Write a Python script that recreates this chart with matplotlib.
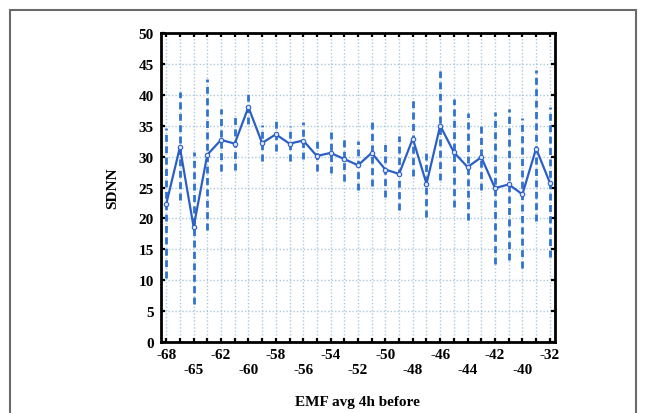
import matplotlib
matplotlib.use("Agg")
import matplotlib.pyplot as plt
from matplotlib.patches import Rectangle

# ---- data ----
emf = [-68, -66, -65, -63, -62, -61, -60, -59, -58, -57, -56, -55, -54, -53, -52,
       -51, -50, -49, -48, -47, -46, -45, -44, -43, -42, -41, -40, -36, -32]
sdnn_mean = [22.3, 31.5, 18.6, 30.3, 32.7, 32.1, 38.0, 32.2, 33.6, 32.1, 32.6, 30.1,
             30.6, 29.6, 28.6, 30.6, 27.9, 27.2, 32.9, 25.6, 35.0, 30.7, 28.3, 29.9,
             24.9, 25.5, 23.9, 31.3, 25.8]
sdnn_low = [10.3, 23.0, 6.1, 18.1, 27.7, 27.9, 35.3, 29.3, 30.9, 29.3, 29.6, 27.6,
            27.4, 26.0, 24.6, 25.2, 23.5, 21.3, 26.8, 20.3, 26.2, 21.9, 19.7, 24.6,
            12.7, 13.2, 11.9, 19.5, 13.8]
sdnn_high = [34.7, 40.5, 30.8, 42.6, 37.7, 36.4, 40.7, 35.1, 36.2, 34.9, 35.6, 32.5,
             34.0, 33.1, 32.6, 36.1, 32.3, 33.3, 39.1, 30.9, 43.8, 39.4, 37.0, 35.4,
             37.2, 37.7, 36.2, 44.0, 38.0]
y_ticks = [0, 5, 10, 15, 20, 25, 30, 35, 40, 45, 50]

W, H = 645, 414
fig = plt.figure(figsize=(W / 100, H / 100), dpi=100)
fig.patch.set_facecolor("white")

# outer frame
fig.add_artist(Rectangle((10 / W, -0.05), (636 - 10) / W, 1.05 - 11 / H,
                         transform=fig.transFigure, fill=False,
                         edgecolor="#6a6a6a", lw=1.5))

ax = fig.add_axes([161 / W, 1 - 343 / H, (555 - 161) / W, (343 - 34) / H])

xs = list(range(len(emf)))
grid_col = "#a9c9de"
for x in xs:
    ax.axvline(x, color=grid_col, lw=1.0, ls=(0, (1, 1.5)), zorder=1)
for y in y_ticks[1:-1]:
    ax.axhline(y, color=grid_col, lw=1.0, ls=(0, (1, 1.5)), zorder=1)

ax.vlines(xs, sdnn_low, sdnn_high, colors="#2f72d2", lw=2.0,
          linestyles=(0, (2.5, 1.6)), zorder=2)
ax.plot(xs, sdnn_mean, color="#2c5fc6", lw=1.6, marker="o", ms=3.2,
        mfc="#dbe6f7", mec="#2c5fc6", mew=0.8, zorder=3)

ax.set_xlim(-0.38, len(emf) - 1 + 0.38)
ax.set_ylim(0, 50)

serif = ["Liberation Serif", "DejaVu Serif"]
labels = []
for i, v in enumerate(emf):
    if i % 4 == 0:
        labels.append(str(v))
    elif i % 4 == 2:
        labels.append("\n" + str(v))
    else:
        labels.append("")
ax.set_xticks(xs)
ax.set_xticklabels(labels, family=serif, fontweight="bold", fontsize=11,
                   linespacing=1.25)
ax.set_yticks(y_ticks)
ax.set_yticklabels([str(v) for v in y_ticks], family=serif, fontweight="bold",
                   fontsize=11)

ax.tick_params(axis="both", direction="in", length=3, width=1.6,
               top=True, right=True, color="black")
ax.tick_params(axis="x", pad=4)
ax.tick_params(axis="y", pad=5)
for s in ax.spines.values():
    s.set_linewidth(2.0)
    s.set_color("black")

fig.text(357 / W, 1 - 403 / H, "EMF avg 4h before", family=serif,
         fontweight="bold", fontsize=11, ha="center", va="center")
fig.text(113 / W, 1 - 188 / H, "SDNN", family=serif, fontweight="bold",
         fontsize=11, ha="center", va="center", rotation=90)

fig.savefig("out.png", dpi=100, facecolor="white")
